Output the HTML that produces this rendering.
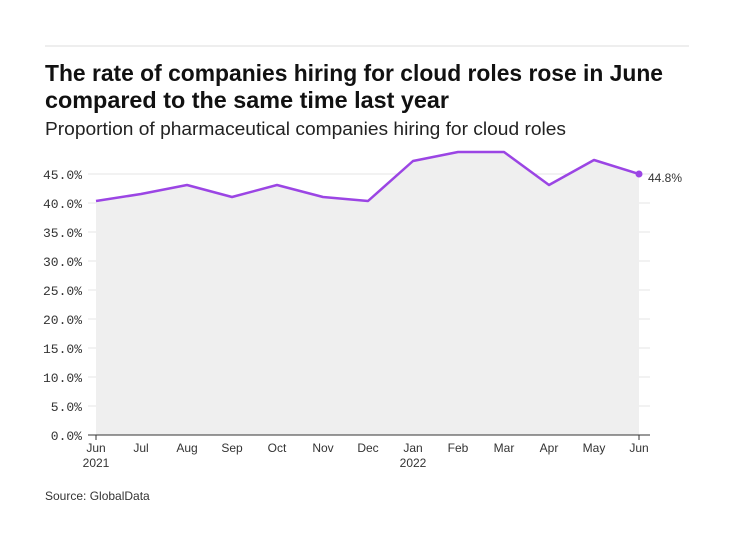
<!DOCTYPE html>
<html><head><style>
body{margin:0;background:#fff;width:735px;height:551px;overflow:hidden;font-family:"Liberation Sans",sans-serif}
</style></head><body>
<svg width="735" height="551" xmlns="http://www.w3.org/2000/svg">
<line x1="45" y1="46" x2="689" y2="46" stroke="#ddd" stroke-width="1"/>
<text x="45" y="81" font-size="23" font-weight="bold" fill="#111" textLength="618" lengthAdjust="spacingAndGlyphs">The rate of companies hiring for cloud roles rose in June</text>
<text x="45" y="108" font-size="23" font-weight="bold" fill="#111" textLength="404" lengthAdjust="spacingAndGlyphs">compared to the same time last year</text>
<text x="45" y="135" font-size="18.5" fill="#222" textLength="521" lengthAdjust="spacingAndGlyphs">Proportion of pharmaceutical companies hiring for cloud roles</text>
<g stroke="#e4e4e4" stroke-width="1">
<line x1="88" y1="174" x2="650" y2="174"/><line x1="88" y1="203" x2="650" y2="203"/>
<line x1="88" y1="232" x2="650" y2="232"/><line x1="88" y1="261" x2="650" y2="261"/>
<line x1="88" y1="290" x2="650" y2="290"/><line x1="88" y1="319" x2="650" y2="319"/>
<line x1="88" y1="348" x2="650" y2="348"/><line x1="88" y1="377" x2="650" y2="377"/>
<line x1="88" y1="406" x2="650" y2="406"/>
</g>
<polygon fill="#efefef" points="96,435 96,201 141,194 187,185 232,197 277,185 323,197 368,201 413,161 458,152 504,152 549,185 594,160 639,174 639,435"/>
<polyline fill="none" stroke="#9b45e4" stroke-width="2.5" stroke-linejoin="round" points="96,201 141,194 187,185 232,197 277,185 323,197 368,201 413,161 458,152 504,152 549,185 594,160 639,174"/>
<circle cx="639" cy="174" r="3.5" fill="#9b45e4"/>
<line x1="88" y1="435" x2="650" y2="435" stroke="#333" stroke-width="1"/>
<g font-family="Liberation Mono,monospace" font-size="13" fill="#333" text-anchor="end">
<text x="82" y="179">45.0%</text><text x="82" y="208">40.0%</text><text x="82" y="237">35.0%</text>
<text x="82" y="266">30.0%</text><text x="82" y="295">25.0%</text><text x="82" y="324">20.0%</text>
<text x="82" y="353">15.0%</text><text x="82" y="382">10.0%</text><text x="82" y="411">5.0%</text>
<text x="82" y="440">0.0%</text>
</g>
<text x="648" y="182" font-size="12" fill="#333">44.8%</text>
<g font-size="12" fill="#333" text-anchor="middle">
<text x="96" y="452">Jun</text><text x="96" y="467">2021</text>
<text x="141" y="452">Jul</text><text x="187" y="452">Aug</text><text x="232" y="452">Sep</text>
<text x="277" y="452">Oct</text><text x="323" y="452">Nov</text><text x="368" y="452">Dec</text>
<text x="413" y="452">Jan</text><text x="413" y="467">2022</text>
<text x="458" y="452">Feb</text><text x="504" y="452">Mar</text><text x="549" y="452">Apr</text>
<text x="594" y="452">May</text><text x="639" y="452">Jun</text>
</g>
<g stroke="#333"><line x1="96" y1="435" x2="96" y2="440"/><line x1="639" y1="435" x2="639" y2="440"/></g>
<text x="45" y="500" font-size="12" fill="#333">Source: GlobalData</text>
</svg>
</body></html>
